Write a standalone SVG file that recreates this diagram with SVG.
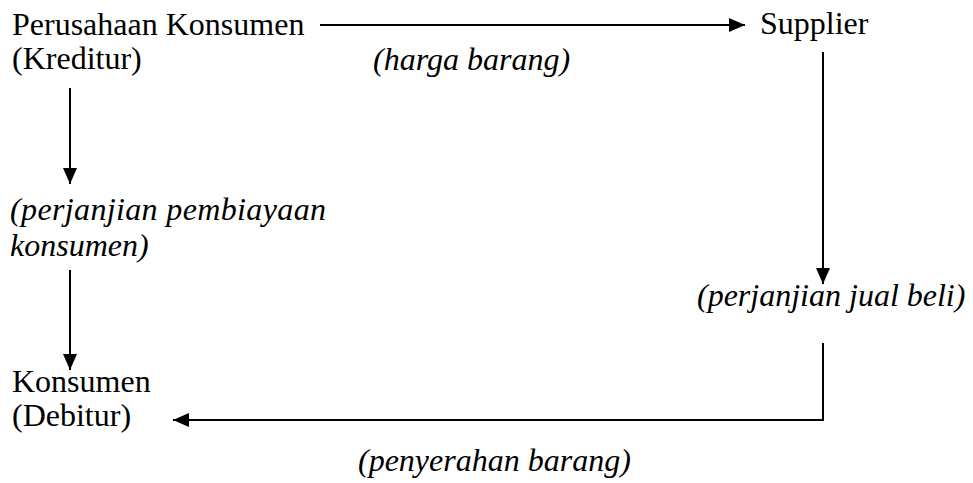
<svg xmlns="http://www.w3.org/2000/svg" width="973" height="483" viewBox="0 0 973 483">
<defs>
<style>
.t{font-family:"Liberation Serif","Times New Roman",serif;font-size:32px;fill:#000}
.i{font-family:"Liberation Serif","Times New Roman",serif;font-size:32px;font-style:italic;fill:#000}
.c{stroke:#000;stroke-width:2;fill:none}
</style>
<marker id="ah" viewBox="0 0 16 14" refX="16" refY="7" markerWidth="16" markerHeight="14" markerUnits="userSpaceOnUse" orient="auto">
<path d="M0,0 L16,7 L0,14 z" fill="#000"/>
</marker>
</defs>
<rect width="973" height="483" fill="#fff"/>
<g id="kreditur"><text class="t" x="12" y="35">Perusahaan Konsumen</text><text class="t" x="12" y="69">(Kreditur)</text></g>
<g id="supplier"><text class="t" x="760" y="34">Supplier</text></g>
<g id="debitur"><text class="t" x="12" y="392">Konsumen</text><text class="t" x="12" y="426">(Debitur)</text></g>
<g id="lbl-harga"><text class="i" x="373" y="70">(harga barang)</text></g>
<g id="lbl-pembiayaan"><text class="i" x="10" y="220" textLength="316">(perjanjian pembiayaan</text><text class="i" x="10" y="256">konsumen)</text></g>
<g id="lbl-jualbeli"><text class="i" x="697" y="306">(perjanjian jual beli)</text></g>
<g id="lbl-penyerahan"><text class="i" x="358" y="471">(penyerahan barang)</text></g>
<g id="connectors">
<line class="c" x1="320" y1="25" x2="745" y2="25" marker-end="url(#ah)"/>
<line class="c" x1="70" y1="88" x2="70" y2="184" marker-end="url(#ah)"/>
<line class="c" x1="70" y1="270" x2="70" y2="370" marker-end="url(#ah)"/>
<line class="c" x1="823" y1="52" x2="823" y2="284" marker-end="url(#ah)"/>
<polyline class="c" points="823,343 823,420 173,420" marker-end="url(#ah)"/>
</g>
</svg>
